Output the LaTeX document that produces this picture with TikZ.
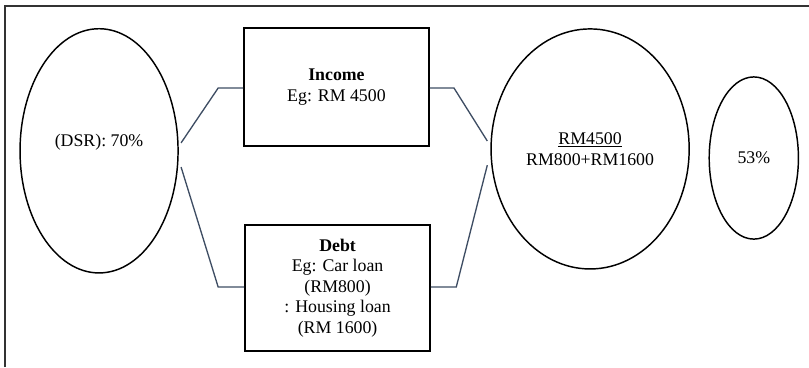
\documentclass[tikz,border=0pt]{standalone}
\usepackage{fontspec}
\setmainfont{Liberation Serif}
\usetikzlibrary{shapes.geometric}
\definecolor{linkgray}{HTML}{3E4D63}

\begin{document}
\begin{tikzpicture}[
	bubble/.style={draw, ellipse, line width=1.1pt, inner sep=0pt, align=center},
	itembox/.style={draw, rectangle, line width=1.1pt, minimum width=4.9cm, align=center},
	link/.style={draw=linkgray, line width=1pt},
	font=\fontsize{13.4}{15.4}\selectfont]
	\useasboundingbox (0,0) rectangle (21.4,9.71);
	%frame
		\draw[line width=0.9pt, black!80] (0.13,0) -- (0.13,9.55) -- (21.4,9.55);
	%ellipses
		\node[bubble, minimum width=4.18cm, minimum height=6.46cm] (dsr) at (2.62,5.72) {\raisebox{6.5pt}[\height][\depth]{(DSR): 70\%}};
		\node[bubble, minimum width=5.24cm, minimum height=6.35cm] (ratio) at (15.61,5.77) {\underline{RM4500}\\RM800+RM1600};
		\node[bubble, minimum width=2.36cm, minimum height=4.29cm] (result) at (19.94,5.53) {53\%};
	%boxes
		\node[itembox, minimum height=3.12cm] (income) at (8.9,7.41) {\textbf{Income}\\Eg: RM 4500};
		\node[itembox, minimum height=3.33cm] (debt) at (8.93,2.09) {\textbf{Debt}\\Eg: Car loan\\(RM800)\\: Housing loan\\(RM 1600)};
	%bend points
		\coordinate (dsrtop) at (4.79,5.93);
		\coordinate (dsrbot) at (4.79,5.29);
		\coordinate (rattop) at (12.89,5.98);
		\coordinate (ratbot) at (12.89,5.34);
	%connectors
		\draw[link] (dsrtop) -- (5.77,7.38) -- (income.west |- 5.77,7.38);
		\draw[link] (dsrbot) -- (5.77,2.12) -- (debt.west |- 5.77,2.12);
		\draw[link] (income.east |- 12.01,7.38) -- (12.01,7.38) -- (rattop);
		\draw[link] (debt.east |- 12.07,2.12) -- (12.07,2.12) -- (ratbot);
\end{tikzpicture}
\end{document}
